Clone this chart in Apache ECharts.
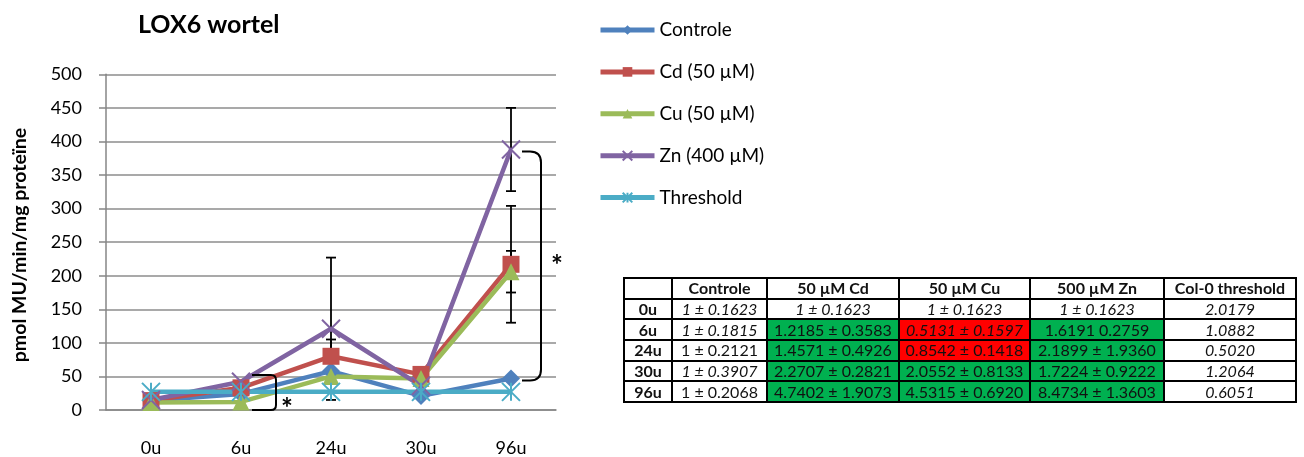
<!DOCTYPE html>
<html>
<head>
<meta charset="utf-8">
<script src="https://cdn.jsdelivr.net/npm/echarts@6/dist/echarts.min.js"></script>
<style>
  html, body { margin: 0; padding: 0; background: #fff; }
  #wrap { position: relative; width: 1304px; height: 457px; }
  #chart { position: absolute; left: 0; top: 0; width: 1304px; height: 457px; }
  #tbl {
    position: absolute; left: 623px; top: 277px;
    border-collapse: collapse; table-layout: fixed;
    font-family: Lato, sans-serif; font-size: 16px; color: #111;
  }
  #tbl td, #tbl th {
    border: 2px solid #000; height: 18.7px; padding: 0; text-align: center;
    white-space: nowrap; line-height: 18px;
  }
  #tbl th { font-weight: bold; }
  #tbl td.row { font-weight: bold; }
  #tbl .i { font-style: italic; }
  #tbl .g { background: #00B050; }
  #tbl .r { background: #FF0000; }
</style>
</head>
<body>
<div id="wrap">
  <div id="chart"></div>
  <table id="tbl"></table>
</div>
<script>
// Sampling times (x-axis categories)
const categories = ['0u', '6u', '24u', '30u', '96u'];

// LOX6 activity in roots (pmol MU/min/mg protein)
const controle  = [14, 24, 58, 21, 47];
const cd50      = [14, 33, 80, 53, 217];
const cu50      = [11, 12, 50, 47, 206];
const zn400     = [15, 42, 121, 36, 388];
const threshold = [27, 27, 27, 27, 27];

// Standard errors (null = no error bar drawn)
const controleErr = [null, null, null, 4, null];
const cd50Err     = [null, null, 25, null, 87];
const cu50Err     = [null, null, null, null, 31];
const zn400Err    = [null, null, 106, null, 62];

// Significance brackets: category, upper value, lower value, star height
const bracketCats  = ['6u', '96u'];
const bracketTop   = [52, 385];
const bracketLow   = [0, 44];
const bracketStar  = [1, 214];

// Y-axis ticks
const yMin = 0, yMax = 500, yStep = 50;

// Relative expression table
const tableHeader = ['', 'Controle', '50 µM Cd', '50 µM Cu', '500 µM Zn', 'Col-0 threshold'];
const tableRowLabels = ['0u', '6u', '24u', '30u', '96u'];
const tblControle  = ['1 ± 0.1623', '1 ± 0.1815', '1 ± 0.2121', '1 ± 0.3907', '1 ± 0.2068'];
const tblCd        = ['1 ± 0.1623', '1.2185 ± 0.3583', '1.4571 ± 0.4926', '2.2707 ± 0.2821', '4.7402 ± 1.9073'];
const tblCu        = ['1 ± 0.1623', '0.5131 ± 0.1597', '0.8542 ± 0.1418', '2.0552 ± 0.8133', '4.5315 ± 0.6920'];
const tblZn        = ['1 ± 0.1623', '1.6191 0.2759', '2.1899 ± 1.9360', '1.7224 ± 0.9222', '8.4734 ± 1.3603'];
const tblThreshold = ['2.0179', '1.0882', '0.5020', '1.2064', '0.6051'];
// Cell state: i = italic (not significant), g = up-regulated, r = down-regulated
const stControle  = ['i', 'i', '', 'i', ''];
const stCd        = ['i', 'g', 'g', 'g', 'g'];
const stCu        = ['i', 'r i', 'r', 'g', 'g'];
const stZn        = ['i', 'g', 'g', 'g', 'g'];
const stThreshold = ['i', 'i', 'i', 'i', 'i'];

// ---- table ----
(function buildTable() {
  const widths = [48, 95, 132, 131, 134, 132];
  const cols = [tblControle, tblCd, tblCu, tblZn, tblThreshold];
  const sts = [stControle, stCd, stCu, stZn, stThreshold];
  const t = document.getElementById('tbl');
  let html = '<colgroup>' + widths.map(w => '<col style="width:' + w + 'px">').join('') + '</colgroup>';
  html += '<tr>' + tableHeader.map(h => '<th>' + h + '</th>').join('') + '</tr>';
  tableRowLabels.forEach((lab, r) => {
    html += '<tr><td class="row">' + lab + '</td>';
    cols.forEach((c, k) => { html += '<td class="' + sts[k][r] + '">' + c[r] + '</td>'; });
    html += '</tr>';
  });
  t.innerHTML = html;
})();

// ---- chart ----
const FONT = 'Lato';
const colors = { controle: '#4F81BD', cd: '#C0504D', cu: '#9BBB59', zn: '#8064A2', thr: '#4BACC6' };
const crossPath = 'path://M0,0L10,10M10,0L0,10';
const starPath = 'path://M0,0L10,10M10,0L0,10M5,0L5,10';

function lineSeries(name, data, color, symbol, size, border) {
  return {
    name, type: 'line', data, z: 3,
    symbol, symbolSize: size,
    lineStyle: { color, width: 4.5 },
    itemStyle: { color: border ? 'none' : color, borderColor: color, borderWidth: border || 0 },
    emphasis: { disabled: true }
  };
}

function errData(vals, errs) {
  const out = [];
  vals.forEach((v, i) => { if (errs[i] != null) out.push([i, v, errs[i]]); });
  return out;
}

function renderErrorBar(params, api) {
  const x = api.value(0), v = api.value(1), e = api.value(2);
  const hi = api.coord([x, v + e]);
  const lo = api.coord([x, Math.max(v - e, 0)]);
  const cap = 5;
  const style = { stroke: '#000', lineWidth: 1.8 };
  return {
    type: 'group',
    children: [
      { type: 'line', shape: { x1: hi[0], y1: hi[1], x2: lo[0], y2: lo[1] }, style },
      { type: 'line', shape: { x1: hi[0] - cap, y1: hi[1], x2: hi[0] + cap, y2: hi[1] }, style },
      { type: 'line', shape: { x1: lo[0] - cap, y1: lo[1], x2: lo[0] + cap, y2: lo[1] }, style }
    ]
  };
}

const allErr = []
  .concat(errData(controle, controleErr))
  .concat(errData(cd50, cd50Err))
  .concat(errData(cu50, cu50Err))
  .concat(errData(zn400, zn400Err));

// bracket geometry (pixels relative to the category centre)
const bracketShape = [
  { x0: 11, xv: 35, r: 5, starDx: 46 },
  { x0: 11, xv: 30, r: 11, starDx: 46 }
];

function renderBracket(params, api) {
  const i = params.dataIndex;
  const ci = api.value(0);
  const g = bracketShape[i];
  const top = api.coord([ci, api.value(1)]);
  const low = api.coord([ci, api.value(2)]);
  const star = api.coord([ci, api.value(3)]);
  const cx = top[0];
  const x0 = cx + g.x0, xv = cx + g.xv, r = g.r;
  const y0 = top[1], y1 = low[1];
  const d = 'M' + x0 + ',' + y0 +
    ' L' + (xv - r) + ',' + y0 +
    ' Q' + xv + ',' + y0 + ' ' + xv + ',' + (y0 + r) +
    ' L' + xv + ',' + (y1 - r) +
    ' Q' + xv + ',' + y1 + ' ' + (xv - r) + ',' + y1 +
    ' L' + x0 + ',' + y1;
  return {
    type: 'group',
    children: [
      { type: 'path', shape: { pathData: d }, style: { fill: 'none', stroke: '#000', lineWidth: 2 } },
      { type: 'text', x: cx + g.starDx, y: star[1],
        style: { text: '*', font: 'bold 28px ' + FONT, fill: '#000', align: 'center', verticalAlign: 'middle' } }
    ]
  };
}

const bracketData = bracketCats.map((c, k) => [categories.indexOf(c), bracketTop[k], bracketLow[k], bracketStar[k]]);

const chart = echarts.init(document.getElementById('chart'), null, { renderer: 'canvas' });
chart.setOption({
  animation: false,
  backgroundColor: '#fff',
  textStyle: { fontFamily: FONT },
  title: {
    text: 'LOX6 wortel', left: 133, top: 7,
    textStyle: { fontFamily: FONT, fontSize: 25, fontWeight: 'bold', color: '#000' }
  },
  grid: { left: 106, top: 74.3, width: 450, height: 336.7, containLabel: false },
  legend: {
    orient: 'vertical', left: 598, top: 20, padding: 0,
    itemWidth: 54, itemHeight: 12, itemGap: 21.9,
    data: ['Controle', 'Cd (50 µM)', 'Cu (50 µM)', 'Zn (400 µM)', 'Threshold'],
    textStyle: { fontFamily: FONT, fontSize: 19, color: '#000', lineHeight: 20 },
    lineStyle: { width: 5 },
    selectedMode: false
  },
  graphic: [{
    type: 'text', x: 20, y: 245, rotation: Math.PI / 2,
    style: { text: 'pmol MU/min/mg proteïne', font: 'bold 19.5px ' + FONT, fill: '#000', align: 'center', verticalAlign: 'middle' }
  }],
  xAxis: {
    type: 'category', data: categories, boundaryGap: true,
    axisLine: { show: true, lineStyle: { color: '#868686', width: 1.5 } },
    axisTick: { show: false },
    axisLabel: { margin: 29, fontSize: 18, color: '#000', fontFamily: FONT },
    splitLine: { show: false }
  },
  yAxis: {
    type: 'value', min: yMin, max: yMax, interval: yStep,
    axisLine: { show: true, lineStyle: { color: '#868686', width: 1.5 } },
    axisTick: { show: true, length: 7, lineStyle: { color: '#868686', width: 1.5 } },
    axisLabel: { margin: 24, fontSize: 18, color: '#000', fontFamily: FONT },
    splitLine: { show: true, lineStyle: { color: '#8c8c8c', width: 1.5 } }
  },
  series: [
    { type: 'custom', name: 'err', renderItem: renderErrorBar, data: allErr, z: 1, encode: { x: 0, y: 1 }, silent: true },
    lineSeries('Controle', controle, colors.controle, 'diamond', 18),
    lineSeries('Cd (50 µM)', cd50, colors.cd, 'rect', 17),
    lineSeries('Cu (50 µM)', cu50, colors.cu, 'triangle', 17),
    lineSeries('Zn (400 µM)', zn400, colors.zn, crossPath, 18, 2),
    lineSeries('Threshold', threshold, colors.thr, starPath, 18, 2),
    { type: 'custom', name: 'brackets', renderItem: renderBracket, data: bracketData, z: 5, encode: { x: 0, y: 1 }, silent: true }
  ]
});
</script>
</body>
</html>
